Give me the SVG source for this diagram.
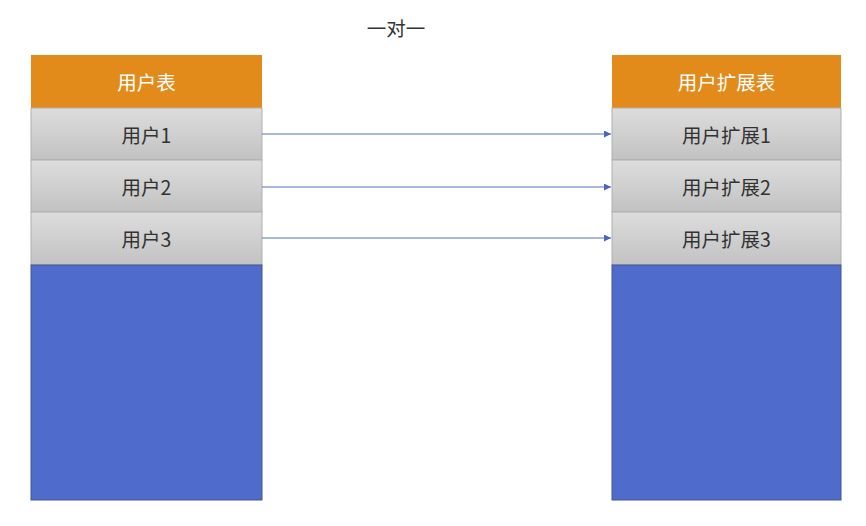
<svg xmlns="http://www.w3.org/2000/svg" width="866" height="526" viewBox="0 0 866 526">
<defs>
<linearGradient id="g" x1="0" y1="0" x2="0" y2="1">
<stop offset="0" stop-color="#dddddd"/>
<stop offset="1" stop-color="#c2c2c2"/>
</linearGradient>
<marker id="ah" viewBox="0 0 10 10" refX="10" refY="5" markerWidth="7" markerHeight="7" markerUnits="userSpaceOnUse" orient="auto">
<path d="M0,0 L10,5 L0,10 z" fill="#4a64c0"/>
</marker>
</defs>
<style>
.hd{fill:#e38b1a}
.row{fill:url(#g);stroke:#b0b0b0;stroke-width:1}
.bl{fill:#4f6ccd;stroke:#44548a;stroke-width:1}
.t{font-family:"Noto Sans CJK SC","Liberation Sans",sans-serif;font-size:19.5px;text-anchor:middle;dominant-baseline:central;fill:#333333}
.th{fill:#ffffff}
.c{stroke:#5670c4;stroke-width:1.2;fill:none;marker-end:url(#ah)}
</style>
<rect width="866" height="526" fill="#ffffff"/>
<text class="t" x="396" y="27">一对一</text>
<g id="user-table">
<rect class="hd" x="31" y="55" width="231" height="53"/>
<text class="t th" x="146.5" y="81.5">用户表</text>
</g>
<g id="user1"><rect class="row" x="31" y="108" width="231" height="52"/><text class="t" x="146.5" y="134">用户1</text></g>
<g id="user2"><rect class="row" x="31" y="160" width="231" height="52"/><text class="t" x="146.5" y="186">用户2</text></g>
<g id="user3"><rect class="row" x="31" y="212" width="231" height="53"/><text class="t" x="146.5" y="238.5">用户3</text></g>
<g id="user-blank"><rect class="bl" x="31" y="265" width="231" height="235"/></g>
<g id="ext-table">
<rect class="hd" x="612" y="55" width="229" height="53"/>
<text class="t th" x="726.5" y="81.5">用户扩展表</text>
</g>
<g id="ext1"><rect class="row" x="612" y="108" width="229" height="52"/><text class="t" x="726.5" y="134">用户扩展1</text></g>
<g id="ext2"><rect class="row" x="612" y="160" width="229" height="52"/><text class="t" x="726.5" y="186">用户扩展2</text></g>
<g id="ext3"><rect class="row" x="612" y="212" width="229" height="53"/><text class="t" x="726.5" y="238.5">用户扩展3</text></g>
<g id="ext-blank"><rect class="bl" x="612" y="265" width="229" height="235"/></g>
<g id="connectors">
<line class="c" x1="262" y1="134" x2="611" y2="134"/>
<line class="c" x1="262" y1="187" x2="611" y2="187"/>
<line class="c" x1="262" y1="238" x2="611" y2="238"/>
</g>
</svg>
